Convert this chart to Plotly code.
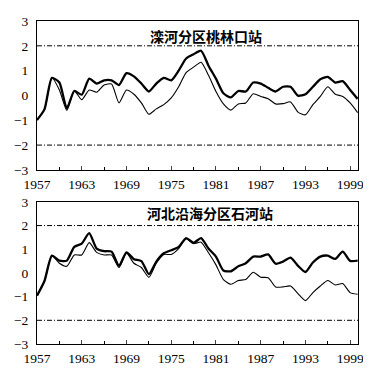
import plotly.graph_objects as go

years = list(range(1957, 2001))

# 滦河分区桃林口站
top_thick = [-0.99, -0.56, 0.71, 0.52, -0.52, 0.18, 0.03, 0.68, 0.48, 0.61,
             0.61, 0.42, 0.90, 0.77, 0.48, 0.16, 0.48, 0.71, 0.61, 1.00,
             1.49, 1.66, 1.80, 1.20, 0.68, 0.09, -0.08, 0.18, 0.16, 0.52,
             0.48, 0.31, 0.16, 0.35, 0.35, -0.01, 0.05, 0.35, 0.65, 0.75,
             0.52, 0.58, 0.22, -0.14]
top_thin = [-0.99, -0.56, 0.71, 0.22, -0.60, 0.18, -0.17, 0.22, 0.13, 0.42,
            0.46, -0.30, 0.22, 0.05, -0.30, -0.76, -0.54, -0.37, -0.10, 0.35,
            0.92, 1.14, 1.34, 0.81, 0.16, -0.34, -0.59, -0.34, -0.30, 0.07,
            -0.04, -0.13, -0.34, -0.33, -0.26, -0.67, -0.78, -0.37, -0.04, 0.35,
            0.05, -0.04, -0.30, -0.69]

# 河北沿海分区石河站
bot_thick = [-0.96, -0.34, 0.73, 0.52, 0.52, 1.10, 1.24, 1.68, 1.03, 0.92,
             0.90, 0.30, 0.87, 0.58, 0.50, -0.05, 0.48, 0.83, 0.96, 1.10,
             1.47, 1.27, 1.47, 1.03, 0.69, 0.10, 0.07, 0.28, 0.41, 0.69,
             0.69, 0.78, 0.39, 0.48, 0.65, 0.30, 0.04, 0.44, 0.69, 0.73,
             0.59, 0.90, 0.51, 0.52]
bot_thin = [-0.96, -0.34, 0.73, 0.41, 0.28, 0.76, 0.76, 1.28, 0.87, 0.76,
            0.76, 0.23, 0.83, 0.41, 0.23, -0.18, 0.41, 0.78, 0.78, 1.03,
            1.45, 1.24, 1.30, 0.85, 0.34, -0.28, -0.48, -0.32, -0.28, 0.03,
            -0.18, -0.20, -0.59, -0.59, -0.55, -0.87, -1.17, -0.83, -0.55, -0.32,
            -0.51, -0.45, -0.83, -0.90]

titles = ["滦河分区桃林口站", "河北沿海分区石河站"]
limits = [2, -2]
tick_years = list(range(1957, 2000, 6))
y_ticks = [-3, -2, -1, 0, 1, 2, 3]
y_labels = ["\u22123", "\u22122", "\u22121", "0", "1", "2", "3"]

x_end = 2000.05

fig = go.Figure()
panels = [(top_thick, top_thin, "x", "y"), (bot_thick, bot_thin, "x2", "y2")]
for thick, thin, xa, ya in panels:
    for lim in limits:
        fig.add_trace(go.Scatter(x=[years[0], x_end], y=[lim, lim], mode="lines",
                                 line=dict(color="black", width=1, dash="5px,2px,1px,2px"),
                                 xaxis=xa, yaxis=ya, showlegend=False, hoverinfo="skip"))
    fig.add_trace(go.Scatter(x=years, y=thin, mode="lines",
                             line=dict(color="black", width=1.1, shape="spline", smoothing=0.6),
                             xaxis=xa, yaxis=ya, showlegend=False))
    fig.add_trace(go.Scatter(x=years, y=thick, mode="lines",
                             line=dict(color="black", width=2.3, shape="spline", smoothing=0.6),
                             xaxis=xa, yaxis=ya, showlegend=False))

font = dict(family="Liberation Serif", size=13.5, color="black")
xcommon = dict(range=[1957, x_end], tickvals=tick_years, ticks="inside", ticklen=4,
               showline=True, linecolor="black", linewidth=1, mirror=True,
               showgrid=False, zeroline=False, tickfont=font, ticklabelstandoff=2,
               ticklabeloverflow="allow",
               minor=dict(dtick=3, tick0=1957, ticks="inside", ticklen=3, tickcolor="black"))
ycommon = dict(range=[-3, 3], tickvals=y_ticks, ticktext=y_labels, ticks="",
               showline=True, linecolor="black", linewidth=1, mirror=True,
               showgrid=False, zeroline=False, tickfont=font, ticklabelstandoff=5)

title_font = dict(family="Noto Sans CJK SC", size=14, color="black", weight="bold")

# the page's 8px body margin offsets the figure, so size it to fit the window
fig.update_layout(
    width=363, height=364,
    margin=dict(l=22, r=13, t=6, b=26),
    paper_bgcolor="white", plot_bgcolor="white",
    font=font,
    xaxis=dict(xcommon, anchor="y"),
    yaxis=dict(ycommon, domain=[0.539, 1.0], anchor="x"),
    xaxis2=dict(xcommon, anchor="y2"),
    yaxis2=dict(ycommon, domain=[0.0, 0.44], anchor="x2"),
    annotations=[
        dict(text=titles[0], x=0.527, y=2.41, xref="x domain", yref="y",
             showarrow=False, font=title_font),
        dict(text=titles[1], x=0.54, y=2.53, xref="x2 domain", yref="y2",
             showarrow=False, font=title_font),
    ],
)

fig.write_html("out.html")
